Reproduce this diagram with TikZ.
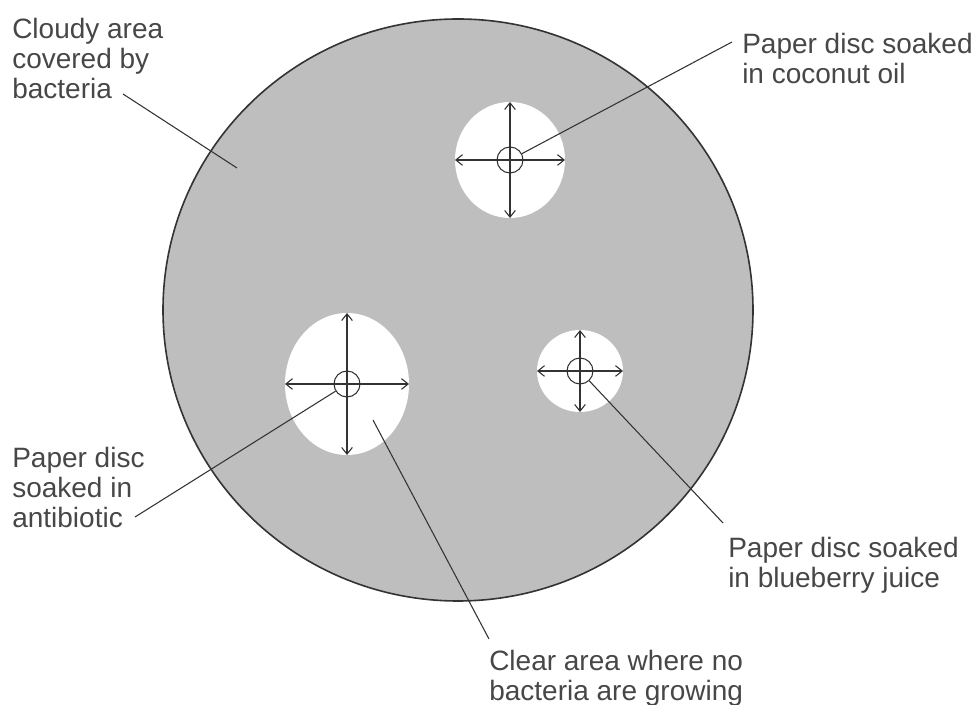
\documentclass[tikz,border=0pt]{standalone}
\usepackage{fontspec}
\setmainfont{Liberation Sans}
\usetikzlibrary{arrows.meta}
\definecolor{agar}{HTML}{BEBEBE}
\definecolor{ink}{HTML}{333333}

\begin{document}
\begin{tikzpicture}[x=0.75pt,y=-0.75pt,font=\fontsize{21}{22.5}\selectfont,
  label/.style={anchor=north west,align=left,inner sep=0pt,text=ink!90},
  leader/.style={draw=ink,line width=0.8pt},
  spread/.style={draw=ink,line width=0.8pt,{Straight Barb[length=5pt,width=8pt]}-{Straight Barb[length=5pt,width=8pt]}},
  disc/.style={circle,draw=ink,line width=0.8pt,minimum size=19.5pt,inner sep=0pt}]
\useasboundingbox (0,0) rectangle (979,705);
\draw[fill=agar,draw=ink,line width=1.2pt] (458,310) ellipse [x radius=295,y radius=291];
\foreach \x/\y/\rx/\ry/\name in {510/160/55/58/coco,347/384/62/71/anti,580/371/43/41/blue}{
\fill[white] (\x,\y) ellipse [x radius=\rx,y radius=\ry];
\draw[spread] (\x-\rx,\y) -- (\x+\rx,\y);
\draw[spread] (\x,\y-\ry) -- (\x,\y+\ry);
\node[disc] (\name) at (\x,\y) {};}
\node[label] (cloudy) at (12,18) {Cloudy area\\covered by\\bacteria};
\node[label] (cocotext) at (742,33) {Paper disc soaked\\in coconut oil};
\node[label] (antitext) at (12,447) {Paper disc\\soaked in\\antibiotic};
\node[label] (bluetext) at (728,537) {Paper disc soaked\\in blueberry juice};
\node[label] (cleartext) at (489,650) {Clear area where no\\bacteria are growing};
\coordinate (cloudyend) at (123,94);
\coordinate (cloudytip) at (237,168);
\coordinate (cocoend) at (732,42);
\coordinate (antiend) at (135,517);
\coordinate (blueend) at (723,523);
\coordinate (cleartip) at (373,420);
\coordinate (clearend) at (489,639);
\draw[leader] (cloudyend) -- (cloudytip);
\draw[leader] (coco) -- (cocoend);
\draw[leader] (anti) -- (antiend);
\draw[leader] (blue) -- (blueend);
\draw[leader] (cleartip) -- (clearend);
\end{tikzpicture}
\end{document}
